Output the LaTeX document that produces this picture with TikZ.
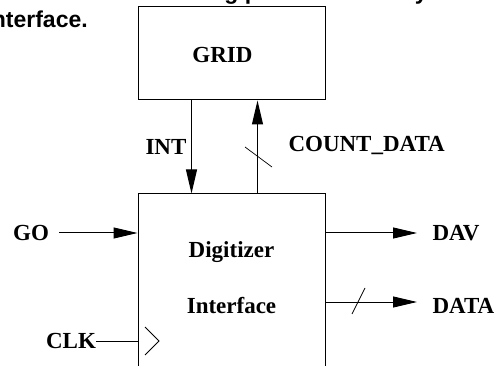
\documentclass[tikz,border=0pt]{standalone}
\usepackage{fontspec}
\setmainfont{Liberation Serif}
\newfontfamily\capfont{Liberation Sans}
\usetikzlibrary{arrows.meta}
\begin{document}
\begin{tikzpicture}[x=1pt,y=-1pt, line width=1pt,
  lbl/.style={font=\fontsize{23}{27}\selectfont\bfseries, inner sep=0pt},
  captxt/.style={font=\capfont\fontsize{23}{26}\selectfont\bfseries, inner sep=0pt, anchor=base west},
  blk/.style={draw, rectangle, inner sep=0pt},
  arr/.style={-{Triangle[length=24pt,width=11pt]}},
  tick/.style={line width=0.7pt}]
\useasboundingbox (0,0) rectangle (498,366);
\begin{scope}
\clip (0,0) rectangle (498,366);
% caption remnants
\node[captxt] (cap1) at (-1,0) {the state of the timing pulses stored by the controller};
\node[captxt] (cap2) at (-15,28) {interface.};
% blocks
\node[blk, minimum width=187pt, minimum height=93pt] (grid) at (231.5,53.5) {};
\node[lbl] (gridt) at (222.5,55) {GRID};
\node[blk, minimum width=187pt, minimum height=216pt] (dig) at (231.5,302) {};
\node[lbl] (dig1) at (231.5,252) {Digitizer};
\node[lbl] (dig2) at (231.5,306) {Interface};
% INT
\draw[arr] ([xshift=54pt]grid.south west) -- ([xshift=54pt]dig.north west);
\node[lbl] (int) at (166,147) {INT};
% COUNT_DATA
\draw[arr] ([xshift=120pt]dig.north west) -- ([xshift=120pt]grid.south west);
\coordinate (cd1) at (245,147);
\coordinate (cd2) at (272,167);
\draw[tick] (cd1) -- (cd2);
\node[lbl, anchor=west] (cd) at (288,145) {COUNT\_DATA};
% GO
\node[lbl] (go) at (31,233) {GO};
\draw[arr] ([xshift=10pt]go.east) -- (dig.west |- go);
% CLK
\node[lbl] (clk) at (71,341) {CLK};
\draw (clk.east) -- (dig.west |- clk);
\coordinate (ck1) at (145,327);
\coordinate (ck2) at (159,341);
\coordinate (ck3) at (145,355);
\draw[line width=0.8pt] (ck1) -- (ck2) -- (ck3);
% DAV
\node[lbl, anchor=west] (dav) at (432,233) {DAV};
\draw[arr] (dig.east |- dav) -- ([xshift=-15pt]dav.west);
% DATA
\node[lbl, anchor=west] (data) at (432,306) {DATA};
\coordinate (dataend) at (417,302);
\draw[arr] (dig.east |- dataend) -- (dataend);
\coordinate (dt1) at (352,314);
\coordinate (dt2) at (365,288);
\draw[tick] (dt1) -- (dt2);
\end{scope}
\end{tikzpicture}
\end{document}
